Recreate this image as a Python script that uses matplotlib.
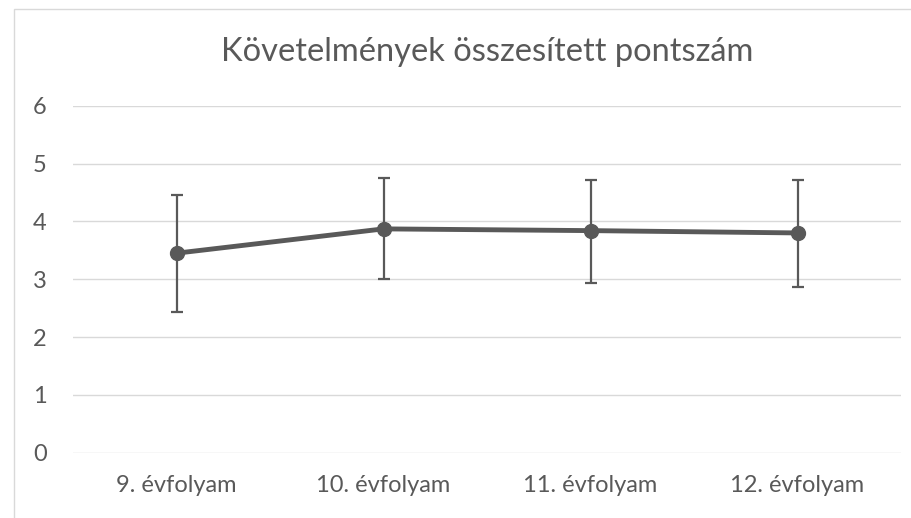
import matplotlib
matplotlib.use("Agg")
import matplotlib.pyplot as plt
from matplotlib.patches import Rectangle

categories = ["9. évfolyam", "10. évfolyam", "11. évfolyam", "12. évfolyam"]
means = [3.45, 3.87, 3.84, 3.80]
upper = [4.46, 4.75, 4.72, 4.71]
lower = [2.44, 3.00, 2.93, 2.87]
yticks = [0, 1, 2, 3, 4, 5, 6]
title = "Követelmények összesített pontszám"

err_low = [m - l for m, l in zip(means, lower)]
err_high = [u - m for m, u in zip(means, upper)]

plt.rcParams['font.family'] = ['Lato', 'DejaVu Sans']
W, H = 912, 518
fig = plt.figure(figsize=(W / 100, H / 100), dpi=100)
fig.patches.append(Rectangle((14.5 / W, -0.1), 2, (H - 8.5) / H + 0.1,
                             transform=fig.transFigure, fill=False,
                             edgecolor="#d9d9d9", linewidth=1.0))

ax = fig.add_axes([73 / W, (H - 452.7) / H, (901 - 73) / W, (452.7 - 105.7) / H])
x = list(range(len(categories)))
color = "#595959"
ax.errorbar(x, means, yerr=[err_low, err_high], fmt='none', ecolor=color,
            elinewidth=1.6, capsize=4.3, capthick=1.6, zorder=3)
ax.plot(x, means, color=color, linewidth=3.5, marker='o', markersize=10,
        zorder=4, solid_capstyle='round')

ax.set_xlim(-0.5, len(categories) - 0.5)
ax.set_ylim(0, 6)
ax.set_yticks(yticks)
ax.set_yticklabels([str(v) for v in yticks])
ax.set_xticks(x)
ax.set_xticklabels(categories)
ax.grid(axis='y', color="#d9d9d9", linewidth=1.0)
ax.set_axisbelow(True)
for s in ax.spines.values():
    s.set_visible(False)
ax.tick_params(axis='both', length=0, labelcolor=color, labelsize=17)
ax.tick_params(axis='y', pad=19)
ax.tick_params(axis='x', pad=16)

fig.text((73 + 901) / 2 / W, (H - 52) / H, title, ha='center', va='center',
         fontsize=23.5, color=color)

fig.savefig("out.png", dpi=100)
